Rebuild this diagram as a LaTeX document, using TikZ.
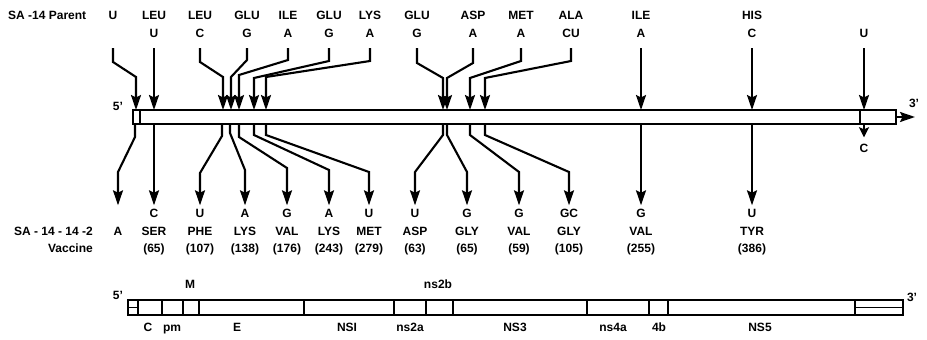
\documentclass[tikz,border=0pt]{standalone}
\usepackage{fontspec}
\setmainfont{Liberation Sans}
\usetikzlibrary{arrows.meta}
\begin{document}
\begin{tikzpicture}[x=1pt,y=-1pt,
  lbl/.style={font=\bfseries\fontsize{12}{14}\selectfont, inner sep=0pt, text height=9pt, text depth=0pt},
  arr/.style={line width=2.1pt, line join=miter, -{Stealth[length=15pt,width=10pt,inset=2.5pt]}},
  barline/.style={line width=1.8pt},
  gline/.style={line width=1.5pt}]
\useasboundingbox (0,0) rectangle (927,340);

% strain labels
\node[lbl, anchor=west] (parent) at (8,15) {SA -14 Parent};
\node[lbl, anchor=east] (vaca) at (93,231) {SA - 14 - 14 -2};
\node[lbl, anchor=east] (vacb) at (93,248) {Vaccine};

% genome bar (mutations)
\draw[barline, fill=white] (133,110) rectangle (896,124);
\draw[barline] (140,110) -- (140,124);
\draw[barline] (860,110) -- (860,124);
\coordinate (tailstart) at (896,117);
\coordinate (tailend) at (915,117);
\draw[arr] (tailstart) -- (tailend);
\node[lbl] (fiveA) at (118,106) {5'};
\node[lbl] (threeA) at (914,103) {3'};

% parent residues, arrows into the bar
\foreach \n/\x/\ra/\rb/\bx/\ya/\yb in {
  1/113/U//136/62/77,
  2/154/LEU/U/154/62/77,
  3/200/LEU/C/223/62/77,
  4/247/GLU/G/231/60/77,
  5/288/ILE/A/239/60/75,
  6/329/GLU/G/254/61/78,
  7/370/LYS/A/266/61/77,
  8/417/GLU/G/443/63/78,
  9/473/ASP/A/447/63/78,
  10/521/MET/A/470/61/78,
  11/571/ALA/CU/485/61/78,
  12/641/ILE/A/641/62/77,
  13/752/HIS/C/752/62/77,
  14/864//U/864/62/77}{
  \node[lbl] (ta\n) at (\x,15) {\ra};
  \node[lbl] (tb\n) at (\x,33) {\rb};
  \coordinate (in\n) at (\bx,110);
  \draw[arr] (tb\n.south) ++(0,10.5) -- (\x,\ya) -- (\bx,\yb) -- (in\n);
}

% 3' end change below the bar
\coordinate (out14) at (864,124);
\node[lbl] (c14) at (864,148) {C};
\draw[line width=2.1pt, -{Stealth[length=10pt,width=10pt,inset=2pt]}, shorten >=6pt] (out14) -- (c14.north);

% vaccine residues, arrows out of the bar
\node[lbl] (ba1) at (118,213) {};
\node[lbl] (bb1) at (118,231) {A};
\coordinate (out1) at (135,124);
\draw[arr, shorten >=3pt] (out1) -- (135,137) -- (118,172) -- (ba1.north);

\foreach \n/\bx/\ya/\lx/\yb/\ra/\rb/\rc in {
  2/154/137/154/172/C/SER/65,
  3/222/136/200/173/U/PHE/107,
  4/230/133/245/170/A/LYS/138,
  5/239/137/287/168/G/VAL/176,
  6/254/135/329/170/A/LYS/243,
  7/266/135/369/172/U/MET/279,
  8/443/135/415/172/U/ASP/63,
  9/447/135/467/172/G/GLY/65,
  10/470/135/519/172/G/VAL/59,
  11/485/135/569/172/GC/GLY/105,
  12/641/137/641/172/G/VAL/255,
  13/752/137/752/172/U/TYR/386}{
  \node[lbl] (ba\n) at (\lx,213) {\ra};
  \node[lbl] (bb\n) at (\lx,231) {\rb};
  \node[lbl] (bc\n) at (\lx,248) {(\rc)};
  \coordinate (out\n) at (\bx,124);
  \draw[arr, shorten >=3pt] (out\n) -- (\bx,\ya) -- (\lx,\yb) -- (ba\n.north);
}

% gene map
\draw[gline] (128,300) rectangle (903,315);
\foreach \x in {138,162,183,199,304,394,426,453,587,649,668,855}
  \draw[gline] (\x,300) -- (\x,315);
\draw[gline] (128,307.5) -- (138,307.5);
\draw[gline] (855,307.5) -- (903,307.5);
\node[lbl] (fiveB) at (118,295) {5'};
\node[lbl] (threeB) at (912,297) {3'};
\node[lbl] (gM) at (190,284) {M};
\node[lbl] (gns2b) at (438,284) {ns2b};
\foreach \nm/\x/\t in {gC/148/C, gpm/172/pm, gE/237/E, gNSI/347/NSI, gns2a/410/ns2a,
  gNS3/515/NS3, gns4a/613/ns4a, g4b/659/4b, gNS5/760/NS5}
  \node[lbl] (\nm) at (\x,327) {\t};
\end{tikzpicture}
\end{document}
